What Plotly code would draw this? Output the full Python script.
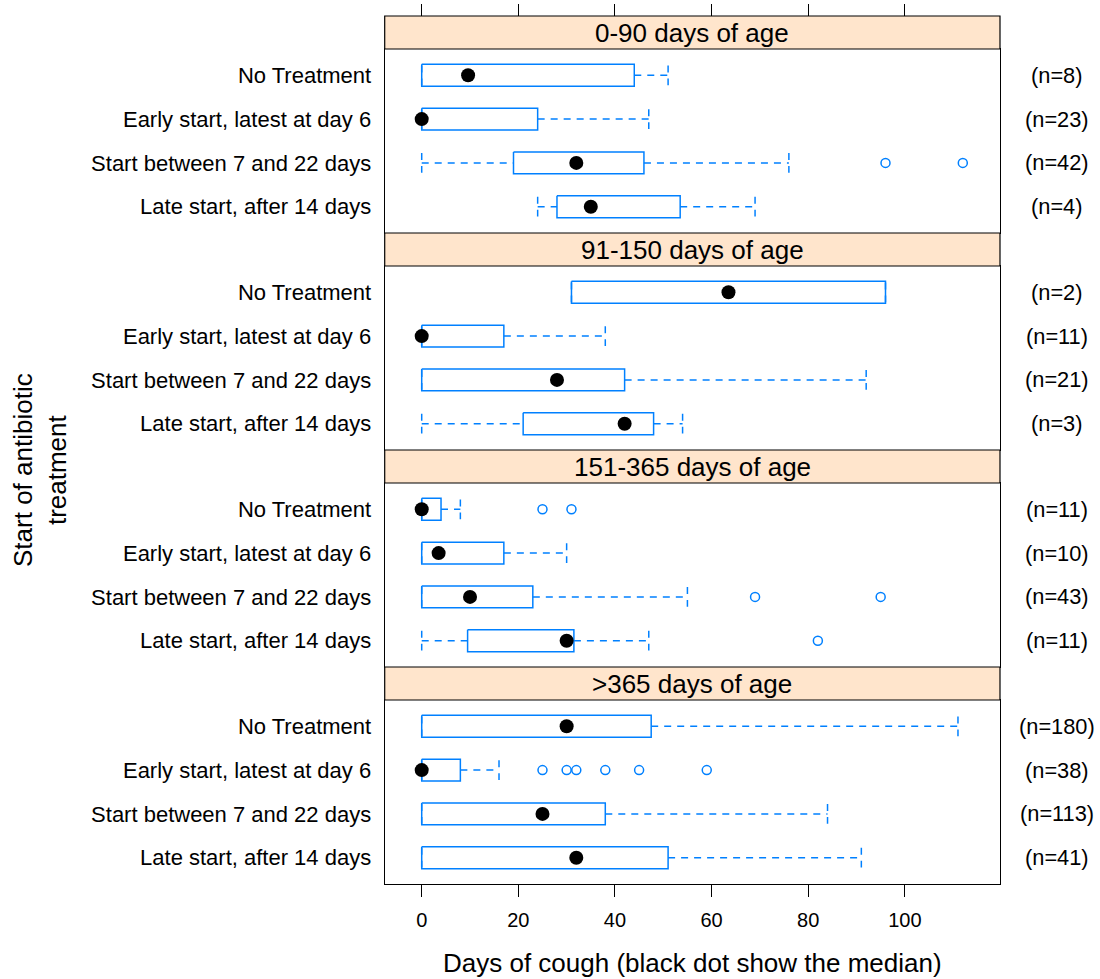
import plotly.graph_objects as go

# ---------------- data ----------------
groups = ["0-90 days of age", "91-150 days of age", "151-365 days of age", ">365 days of age"]
treatments = ["No Treatment", "Early start, latest at day 6",
              "Start between 7 and 22 days", "Late start, after 14 days"]

g1_lower = [0, 0, 0, 24]
g1_q1 = [0, 0, 19, 28]
g1_median = [9.6, 0, 32, 35]
g1_q3 = [44, 24, 46, 53.5]
g1_upper = [51, 47, 76, 69]
g1_outliers = [[], [], [96, 112], []]
g1_n = [8, 23, 42, 4]

g2_lower = [31, 0, 0, 0]
g2_q1 = [31, 0, 0, 21]
g2_median = [63.5, 0, 28, 42]
g2_q3 = [96, 17, 42, 48]
g2_upper = [96, 38, 92, 54]
g2_outliers = [[], [], [], []]
g2_n = [2, 11, 21, 3]

g3_lower = [0, 0, 0, 0]
g3_q1 = [0, 0, 0, 9.5]
g3_median = [0, 3.5, 10, 30]
g3_q3 = [4, 17, 23, 31.5]
g3_upper = [8, 30, 55, 47]
g3_outliers = [[25, 31], [], [69, 95], [82]]
g3_n = [11, 10, 43, 11]

g4_lower = [0, 0, 0, 0]
g4_q1 = [0, 0, 0, 0]
g4_median = [30, 0, 25, 32]
g4_q3 = [47.5, 8, 38, 51]
g4_upper = [111, 16, 84, 91]
g4_outliers = [[], [25, 30, 32, 38, 45, 59], [], []]
g4_n = [180, 38, 113, 41]

x_ticks = [0, 20, 40, 60, 80, 100]
x_title = "Days of cough (black dot show the median)"
y_title = "Start of antibiotic<br>treatment"

panels = [
    (g1_lower, g1_q1, g1_median, g1_q3, g1_upper, g1_outliers, g1_n),
    (g2_lower, g2_q1, g2_median, g2_q3, g2_upper, g2_outliers, g2_n),
    (g3_lower, g3_q1, g3_median, g3_q3, g3_upper, g3_outliers, g3_n),
    (g4_lower, g4_q1, g4_median, g4_q3, g4_upper, g4_outliers, g4_n),
]

# ---------------- layout constants ----------------
W, H = 1100, 979
XL, XR = 384.7, 1000.0
TOP, STRIP, BODY = 16.0, 33.0, 184.0
XRANGE = [-7.66, 119.7]
BLUE = "#0080ff"
FONT = "Liberation Sans, Arial, sans-serif"
BOX_HALF = 0.25
CAP_HALF = 0.225
DASH = "7px,6px"
LW = 1.5

xdom = [XL / W, XR / W]

fig = go.Figure()
layout = dict(
    width=W, height=H, margin=dict(l=0, r=0, t=0, b=0),
    paper_bgcolor="white", plot_bgcolor="white",
    showlegend=False, font=dict(family=FONT, color="black"),
    shapes=[], annotations=[],
)

for i, (lo, q1, med, q3, up, outs, ns) in enumerate(panels):
    k = "" if i == 0 else str(i + 1)
    xa, ya = "x" + k, "y" + k
    body_top = TOP + STRIP * (i + 1) + BODY * i
    body_bot = body_top + BODY
    ydom = [1 - body_bot / H, 1 - body_top / H]

    for r in range(len(treatments)):
        yv = r + 1
        # box
        fig.add_trace(go.Scatter(
            x=[q1[r], q3[r], q3[r], q1[r], q1[r]],
            y=[yv - BOX_HALF, yv - BOX_HALF, yv + BOX_HALF, yv + BOX_HALF, yv - BOX_HALF],
            mode="lines", line=dict(color=BLUE, width=LW),
            xaxis=xa, yaxis=ya, hoverinfo="skip"))
        # whiskers
        fig.add_trace(go.Scatter(
            x=[lo[r], q1[r], None, q3[r], up[r]],
            y=[yv, yv, None, yv, yv],
            mode="lines", line=dict(color=BLUE, width=LW, dash=DASH),
            xaxis=xa, yaxis=ya, hoverinfo="skip"))
        # caps
        fig.add_trace(go.Scatter(
            x=[lo[r], lo[r], None, up[r], up[r]],
            y=[yv - CAP_HALF, yv + CAP_HALF, None, yv - CAP_HALF, yv + CAP_HALF],
            mode="lines", line=dict(color=BLUE, width=LW, dash=DASH),
            xaxis=xa, yaxis=ya, hoverinfo="skip"))
        # outliers
        if outs[r]:
            fig.add_trace(go.Scatter(
                x=outs[r], y=[yv] * len(outs[r]), mode="markers",
                marker=dict(symbol="circle-open", size=9, color=BLUE,
                            line=dict(width=LW, color=BLUE)),
                xaxis=xa, yaxis=ya, hoverinfo="skip"))
        # median
        fig.add_trace(go.Scatter(
            x=[med[r]], y=[yv], mode="markers",
            marker=dict(symbol="circle", size=14, color="black"),
            xaxis=xa, yaxis=ya, hoverinfo="skip"))
        # n label
        layout["annotations"].append(dict(
            text=f"(n={ns[r]})", x=1057 / W, xref="paper", y=yv, yref=ya,
            xanchor="center", yanchor="middle", showarrow=False,
            font=dict(size=21.8, family=FONT, color="black")))

    is_bottom = i == len(panels) - 1
    layout["xaxis" + k] = dict(
        domain=xdom, anchor=ya, range=XRANGE, showgrid=False, zeroline=False,
        showline=True, mirror=True, linecolor="black", linewidth=1.2,
        tickvals=x_ticks if is_bottom else [],
        ticks="outside" if is_bottom else "", ticklen=12, tickwidth=1.2,
        tickcolor="black", showticklabels=is_bottom, ticklabelstandoff=6,
        tickfont=dict(size=20, family=FONT, color="black"),
    )
    layout["yaxis" + k] = dict(
        domain=ydom, anchor=xa, range=[4.6, 0.4], showgrid=False, zeroline=False,
        showline=True, mirror=True, linecolor="black", linewidth=1.2,
        tickvals=[1, 2, 3, 4], ticktext=treatments, ticks="",
        ticklabelstandoff=8,
        tickfont=dict(size=22, family=FONT, color="black"),
    )
    # strip
    layout["shapes"].append(dict(
        type="rect", xref="paper", yref="paper",
        x0=xdom[0], x1=xdom[1], y0=1 - body_top / H, y1=1 - (body_top - STRIP) / H,
        fillcolor="#ffe5cc", line=dict(color="black", width=1.2), layer="above"))
    layout["annotations"].append(dict(
        text=groups[i], xref="paper", yref="paper",
        x=(xdom[0] + xdom[1]) / 2, y=1 - (body_top - STRIP / 2) / H,
        xanchor="center", yanchor="middle", showarrow=False,
        font=dict(size=26, family=FONT, color="black")))

# top tick marks above the first strip
layout["xaxis5"] = dict(
    overlaying="x", anchor="free", position=1 - TOP / H, side="top",
    range=XRANGE, tickvals=x_ticks, ticks="outside", ticklen=12, tickwidth=1.2,
    tickcolor="black", showticklabels=False, showline=False, showgrid=False,
    zeroline=False)
fig.add_trace(go.Scatter(x=[0], y=[1], mode="markers", marker=dict(opacity=0),
                         xaxis="x5", yaxis="y", hoverinfo="skip"))

# axis titles
layout["annotations"].append(dict(
    text=x_title, xref="paper", yref="paper",
    x=(xdom[0] + xdom[1]) / 2, y=1 - 963 / H, xanchor="center", yanchor="middle",
    showarrow=False, font=dict(size=26, family=FONT, color="black")))
layout["annotations"].append(dict(
    text=y_title, xref="paper", yref="paper", textangle=-90,
    x=40 / W, y=1 - 470 / H, xanchor="center", yanchor="middle",
    showarrow=False, font=dict(size=26, family=FONT, color="black")))

fig.update_layout(**layout)
fig.write_html("out.html")
